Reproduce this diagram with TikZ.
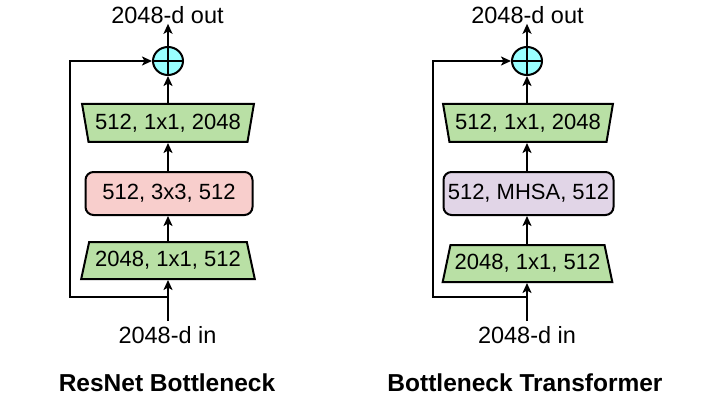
\documentclass[tikz,border=0pt]{standalone}
\usepackage{fontspec}
\setmainfont{Liberation Sans}
\usetikzlibrary{shapes.geometric,arrows.meta}

\definecolor{convgreen}{HTML}{B9E0A5}
\definecolor{convpink}{HTML}{F8CECC}
\definecolor{mhsapurple}{HTML}{E1D5E7}
\definecolor{sumcyan}{HTML}{99FFFF}

\tikzset{
  lbl/.style={font=\fontsize{23.5}{26}\selectfont, inner sep=0pt},
  title/.style={font=\fontsize{24.5}{28}\bfseries\selectfont, inner sep=0pt},
  convdown/.style={trapezium, trapezium stretches=true, shape border rotate=180,
    trapezium left angle=72, trapezium right angle=72, draw, line width=2pt,
    fill=convgreen, minimum width=172pt, minimum height=38pt, inner sep=0pt,
    font=\fontsize{22}{24}\selectfont},
  convup/.style={trapezium, trapezium stretches=true,
    trapezium left angle=68, trapezium right angle=68, draw, line width=2pt,
    fill=convgreen, minimum width=174pt, minimum height=37pt, inner sep=0pt,
    font=\fontsize{22}{24}\selectfont},
  midbox/.style={rectangle, rounded corners=8pt, draw, line width=2pt,
    minimum width=167pt, minimum height=43pt, inner sep=0pt,
    font=\fontsize{22}{24}\selectfont},
  sumnode/.style={ellipse, draw, line width=2pt, fill=sumcyan,
    minimum width=30pt, minimum height=28pt, inner sep=0pt,
    path picture={\draw[line width=2pt]
      (path picture bounding box.north) -- (path picture bounding box.south)
      (path picture bounding box.west) -- (path picture bounding box.east);}},
  arrow/.style={line width=2pt, -{Stealth[length=10pt,width=9pt,inset=2.5pt]}},
}

\begin{document}
\begin{tikzpicture}[x=1pt, y=-1pt]
    \useasboundingbox (0,0) rectangle (724,412);

    % ResNet bottleneck
    \draw
    (167.5, 15) node[lbl](outL){2048-d out}
    (168, 61) node[sumnode](sumL){}
    (168, 123) node[convdown](upL){512, 1x1, 2048}
    (169, 193.5) node[midbox, fill=convpink](midL){512, 3x3, 512}
    (168, 260.5) node[convup](downL){2048, 1x1, 512}
    (167.5, 335) node[lbl, inner ysep=5pt](inL){2048-d in}
    (167, 383) node[title](titleL){ResNet Bottleneck};
    \coordinate (splitL) at (168, 297);

    \draw[arrow] (inL.north -| sumL.south) -- (sumL.south |- downL.south);
    \draw[arrow] (sumL.south |- downL.north) -- (sumL.south |- midL.south);
    \draw[arrow] (sumL.south |- midL.north) -- (sumL.south |- upL.south);
    \draw[arrow] (sumL.south |- upL.north) -- (sumL.south);
    \draw[arrow] (sumL.north) -- (sumL.north |- outL.south);
    \draw[arrow] (splitL) -- ++(-98,0) |- (sumL);

    % Bottleneck transformer
    \draw
    (527.5, 15) node[lbl](outR){2048-d out}
    (527, 61) node[sumnode](sumR){}
    (528, 123) node[convdown, minimum width=170pt](upR){512, 1x1, 2048}
    (528.5, 193.5) node[midbox, fill=mhsapurple, minimum width=170pt](midR){512, MHSA, 512}
    (527.5, 263.5) node[convup, minimum width=170pt](downR){2048, 1x1, 512}
    (527, 335) node[lbl, inner ysep=5pt](inR){2048-d in}
    (525, 383) node[title](titleR){Bottleneck Transformer};
    \coordinate (splitR) at (527, 297);

    \draw[arrow] (inR.north -| sumR.south) -- (sumR.south |- downR.south);
    \draw[arrow] (sumR.south |- downR.north) -- (sumR.south |- midR.south);
    \draw[arrow] (sumR.south |- midR.north) -- (sumR.south |- upR.south);
    \draw[arrow] (sumR.south |- upR.north) -- (sumR.south);
    \draw[arrow] (sumR.north) -- (sumR.north |- outR.south);
    \draw[arrow] (splitR) -- ++(-94,0) |- (sumR);

  \end{tikzpicture}
\end{document}
